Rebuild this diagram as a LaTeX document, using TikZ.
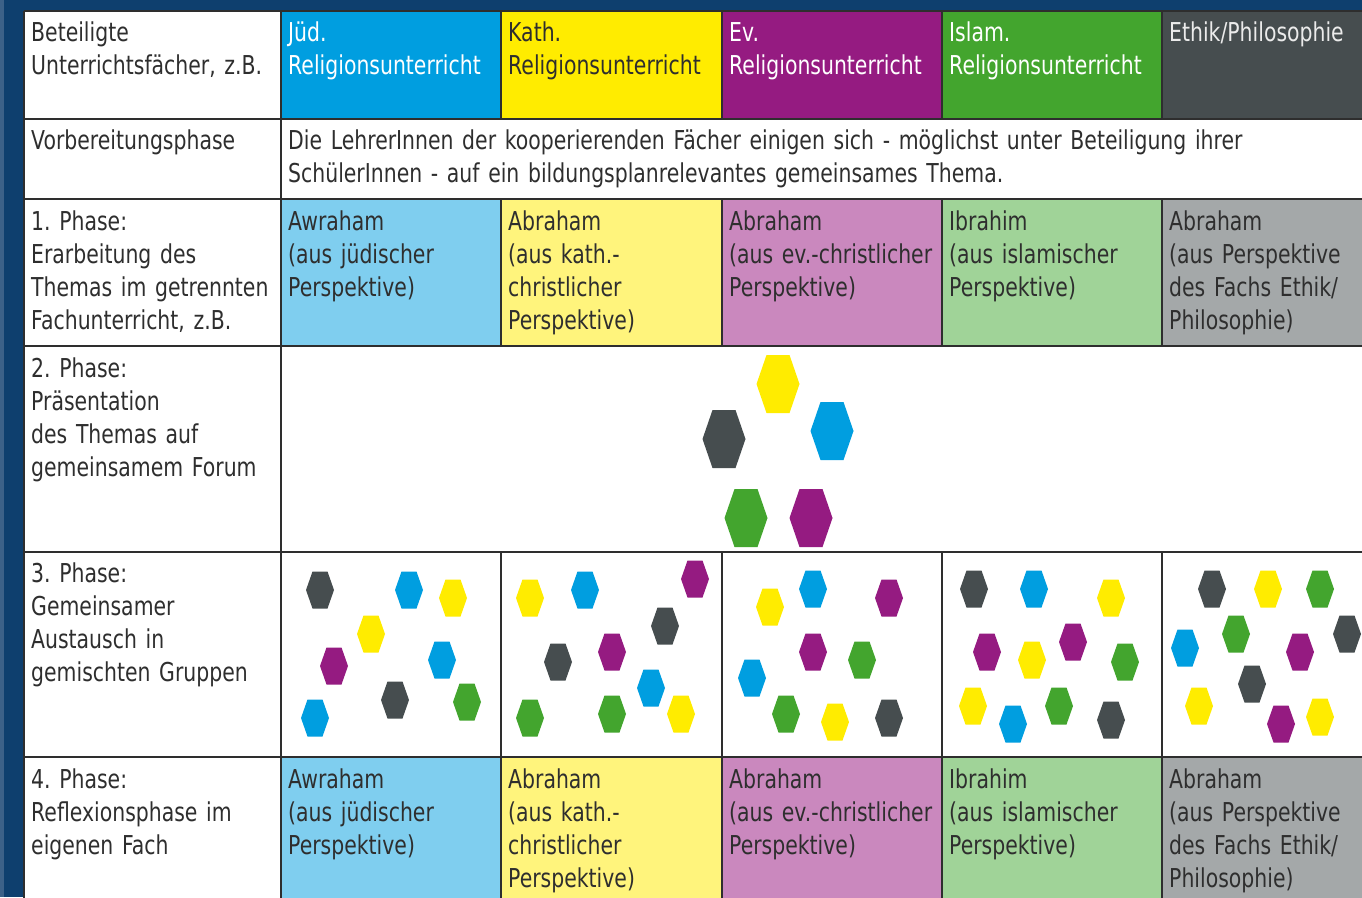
\documentclass[tikz,border=0pt]{standalone}
\usepackage{fontspec}
\setmainfont{DejaVu Sans}[FakeStretch=0.785]
\frenchspacing
\definecolor{bordblue}{HTML}{0E3F6E}
\definecolor{bordedge}{HTML}{3C6188}
\definecolor{gridc}{HTML}{2E2E2E}
\definecolor{txt}{HTML}{2E2E2E}
\definecolor{hB}{HTML}{009EE0}
\definecolor{hY}{HTML}{FFEC00}
\definecolor{hP}{HTML}{951B81}
\definecolor{hG}{HTML}{43A52E}
\definecolor{hK}{HTML}{464D4F}
\definecolor{lB}{HTML}{7FCEEF}
\definecolor{lY}{HTML}{FFF47C}
\definecolor{lP}{HTML}{CA88BE}
\definecolor{lG}{HTML}{A0D398}
\definecolor{lK}{HTML}{A4A8A9}
\tikzset{
  celltext/.style={anchor=base west, inner sep=0pt, text width=420pt, align=left,
    font=\fontsize{26}{33}\selectfont, text=txt},
  hdrlight/.style={celltext, text=white},
  hdrgray/.style={celltext, text=black!8},
  gridline/.style={draw=gridc, line width=2pt},
  pics/hexa/.style={code={\fill[#1] (-14,0) -- (-7.5,-18.5) -- (7.5,-18.5) -- (14,0) -- (7.5,18.5) -- (-7.5,18.5) -- cycle;}},
  pics/bighexa/.style={code={\fill[#1] (-21.5,0) -- (-11.5,-29) -- (11.5,-29) -- (21.5,0) -- (11.5,29) -- (-11.5,29) -- cycle;}}
}
\begin{document}
\begin{tikzpicture}[x=1pt,y=-1pt]
\useasboundingbox (0,0) rectangle (1362,897);
\begin{scope}
\clip (0,0) rectangle (1362,897);
% frame
\fill[bordblue] (0,0) rectangle (1362,897);
\fill[bordedge] (0,0) rectangle (4,897);
% cell backgrounds
\fill[white] (24,11) rectangle (1400,920);
% header
\fill[hB] (281,11) rectangle (501,118.5);
\fill[hY] (501,11) rectangle (722,118.5);
\fill[hP] (722,11) rectangle (942,118.5);
\fill[hG] (942,11) rectangle (1162,118.5);
\fill[hK] (1162,11) rectangle (1400,118.5);
% phase 1 and phase 4
\foreach \ya/\yb in {199/346, 757/920}{
  \fill[lB] (281,\ya) rectangle (501,\yb);
  \fill[lY] (501,\ya) rectangle (722,\yb);
  \fill[lP] (722,\ya) rectangle (942,\yb);
  \fill[lG] (942,\ya) rectangle (1162,\yb);
  \fill[lK] (1162,\ya) rectangle (1400,\yb);
}
% grid
\foreach \yy in {11,118.5,199,346,551.5,757}{
  \draw[gridline] (24,\yy) -- (1400,\yy);
}
\draw[gridline] (24,11) -- (24,920);
\draw[gridline] (281,11) -- (281,920);
\foreach \xx in {501,722,942,1162}{
  \draw[gridline] (\xx,11) -- (\xx,118.5);
  \draw[gridline] (\xx,199) -- (\xx,346);
  \draw[gridline] (\xx,551.5) -- (\xx,920);
}
% phase 2 hexagons
\pic at (778,384) {bighexa=hY};
\pic at (724,439) {bighexa=hK};
\pic at (832,431) {bighexa=hB};
\pic at (746,518) {bighexa=hG};
\pic at (811,518) {bighexa=hP};
% phase 3 hexagons
\foreach \hx/\hy/\hc in {
  320/590/hK, 409/590/hB, 453/598/hY, 371/634/hY, 334/666/hP, 442/660/hB, 395/700/hK, 467/702/hG, 315/718/hB,
  530/598/hY, 585/590/hB, 695/579/hP, 665/626/hK, 558/662/hK, 612/652/hP, 651/688/hB, 530/718/hG, 612/714/hG, 681/714/hY,
  770/607/hY, 813/589/hB, 889/598/hP, 813/652/hP, 862/660/hG, 752/678/hB, 786/714/hG, 835/722/hY, 889/718/hK,
  974/589/hK, 1034/589/hB, 1111/598/hY, 987/652/hP, 1032/660/hY, 1073/642/hP, 1125/662/hG, 973/706/hY, 1013/724/hB, 1059/706/hG, 1111/720/hK,
  1212/589/hK, 1268/589/hY, 1320/589/hG, 1236/634/hG, 1185/648/hB, 1347/634/hK, 1300/652/hP, 1252/684/hK, 1199/706/hY, 1281/724/hP, 1320/717/hY}{
  \pic at (\hx,\hy) {hexa=\hc};
}
% header texts
\node[celltext] (h0) at (31,41) {Beteiligte\\Unterrichtsfächer, z.B.};
\node[hdrlight] (h1) at (288,41) {Jüd.\\Religionsunterricht};
\node[celltext] (h2) at (508,41) {Kath.\\Religionsunterricht};
\node[hdrlight] (h3) at (729,41) {Ev.\\Religionsunterricht};
\node[hdrlight] (h4) at (949,41) {Islam.\\Religionsunterricht};
\node[hdrgray] (h5) at (1169,41) {Ethik/Philosophie};
% Vorbereitungsphase
\node[celltext] (v0) at (31,149) {Vorbereitungsphase};
\node[celltext, text width=1060pt] (v1) at (288,149) {Die LehrerInnen der kooperierenden Fächer einigen sich - möglichst unter Beteiligung ihrer\\SchülerInnen - auf ein bildungsplanrelevantes gemeinsames Thema.};
% phase 1
\node[celltext] (a0) at (31,230) {1. Phase:\\Erarbeitung des\\Themas im getrennten\\Fachunterricht, z.B.};
\node[celltext] (a1) at (288,230) {Awraham\\(aus jüdischer\\Perspektive)};
\node[celltext] (a2) at (508,230) {Abraham\\(aus kath.-\\christlicher\\Perspektive)};
\node[celltext] (a3) at (729,230) {Abraham\\(aus ev.-christlicher\\Perspektive)};
\node[celltext] (a4) at (949,230) {Ibrahim\\(aus islamischer\\Perspektive)};
\node[celltext] (a5) at (1169,230) {Abraham\\(aus Perspektive\\des Fachs Ethik/\\Philosophie)};
% phase 2
\node[celltext] (b0) at (31,377) {2. Phase:\\Präsentation\\des Themas auf\\gemeinsamem Forum};
% phase 3
\node[celltext] (c0) at (31,582) {3. Phase:\\Gemeinsamer\\Austausch in\\gemischten Gruppen};
% phase 4
\node[celltext] (d0) at (31,788) {4. Phase:\\Reflexionsphase im\\eigenen Fach};
\node[celltext] (d1) at (288,788) {Awraham\\(aus jüdischer\\Perspektive)};
\node[celltext] (d2) at (508,788) {Abraham\\(aus kath.-\\christlicher\\Perspektive)};
\node[celltext] (d3) at (729,788) {Abraham\\(aus ev.-christlicher\\Perspektive)};
\node[celltext] (d4) at (949,788) {Ibrahim\\(aus islamischer\\Perspektive)};
\node[celltext] (d5) at (1169,788) {Abraham\\(aus Perspektive\\des Fachs Ethik/\\Philosophie)};
\end{scope}
\end{tikzpicture}
\end{document}
